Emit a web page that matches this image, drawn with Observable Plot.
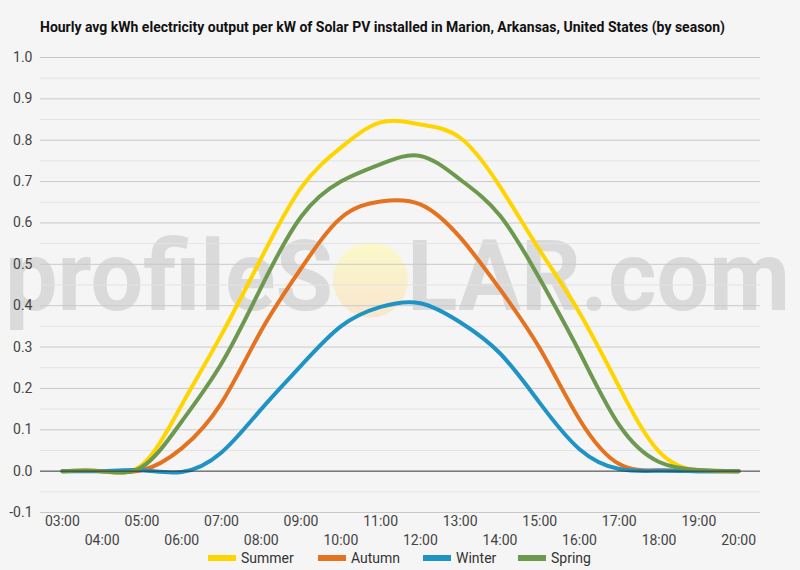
<!DOCTYPE html>
<html>
<head>
<meta charset="utf-8">
<script src="https://cdn.jsdelivr.net/npm/d3@7"></script>
<script src="https://cdn.jsdelivr.net/npm/@observablehq/plot@0.6"></script>
<style>
  html, body { margin: 0; padding: 0; background: #f5f5f5; }
  #wrap { position: relative; width: 800px; height: 570px; background: #f5f5f5; overflow: hidden; font-family: Roboto, "Liberation Sans", sans-serif; }
  #title { position: absolute; left: 40px; top: 18px; font-size: 15px; font-weight: 700; color: #111; white-space: nowrap; transform-origin: left center; }
  #wm { position: absolute; left: 0; top: 0; }
  #chart { position: absolute; left: 0; top: 45px; }
  #legend { position: absolute; left: 0; top: 548px; width: 800px; height: 20px; }
  .item { position: absolute; top: 0; height: 20px; display: flex; align-items: center; font-size: 14px; color: #333; white-space: nowrap; }
  .sw { width: 28px; height: 6px; margin-right: 5px; }
</style>
</head>
<body>
<div id="wrap">
  <svg id="wm" width="800" height="570"></svg>
  <div id="title">Hourly avg kWh electricity output per kW of Solar PV installed in Marion, Arkansas, United States (by season)</div>
  <div id="chart"></div>
  <div id="legend"></div>
</div>
<script>
// ---- data ----
const hours = [3, 4, 5, 6, 7, 8, 9, 10, 11, 12, 13, 14, 15, 16, 17, 18, 19, 20];
const hourLabels = ["03:00","04:00","05:00","06:00","07:00","08:00","09:00","10:00","11:00","12:00","13:00","14:00","15:00","16:00","17:00","18:00","19:00","20:00"];
const seasons = ["Summer", "Autumn", "Winter", "Spring"];
const seasonColors = ["#FFD500", "#E5721F", "#1F93C3", "#6C994F"];
const summer = [0, 0, 0.015, 0.16, 0.33, 0.515, 0.685, 0.782, 0.843, 0.838, 0.806, 0.688, 0.534, 0.383, 0.203, 0.047, 0.002, 0];
const autumn = [0, 0, 0.002, 0.055, 0.165, 0.34, 0.49, 0.612, 0.652, 0.645, 0.565, 0.44, 0.297, 0.125, 0.017, 0.002, 0, 0];
const winter = [0, 0, 0.002, -0.002, 0.045, 0.15, 0.255, 0.35, 0.397, 0.406, 0.36, 0.285, 0.165, 0.053, 0.005, 0.001, 0, 0];
const spring = [0, 0, 0.01, 0.12, 0.26, 0.445, 0.615, 0.7, 0.742, 0.762, 0.705, 0.618, 0.465, 0.288, 0.111, 0.022, 0.003, 0];
const yTicks = [-0.1, 0, 0.1, 0.2, 0.3, 0.4, 0.5, 0.6, 0.7, 0.8, 0.9, 1.0];
const yMinor = [-0.05, 0.05, 0.15, 0.25, 0.35, 0.45, 0.55, 0.65, 0.75, 0.85, 0.95];

const seriesValues = [summer, autumn, winter, spring];
const rows = [];
seasons.forEach((s, i) => hours.forEach((h, j) => rows.push({season: s, hour: h, value: seriesValues[i][j]})));

const labelOf = new Map(hours.map((h, i) => [h, hourLabels[i]]));
const oddHours = hours.filter(h => h % 2 === 1);
const evenHours = hours.filter(h => h % 2 === 0);

const font = "Roboto, 'Liberation Sans', sans-serif";

const plot = Plot.plot({
  width: 800,
  height: 503,
  marginTop: 12,
  marginBottom: 36,
  marginLeft: 40,
  marginRight: 40,
  style: {background: "transparent", fontFamily: font, fontSize: "14px", color: "#444", overflow: "visible"},
  x: {type: "linear", domain: [2.45, 20.55], axis: null},
  y: {domain: [-0.1, 1.0], axis: null},
  color: {domain: seasons, range: seasonColors},
  marks: [
    Plot.ruleY(yMinor, {stroke: "#e3e3e3", strokeWidth: 1}),
    Plot.ruleY(yTicks.filter(d => d !== 0), {stroke: "#c9c9c9", strokeWidth: 1}),
    Plot.line(rows, {x: "hour", y: "value", z: "season", stroke: "season", strokeWidth: 4, curve: "natural"}),
    Plot.ruleY([0], {stroke: "#333", strokeWidth: 1}),
    Plot.axisY({ticks: yTicks, tickSize: 0, tickPadding: 8, tickFormat: d => d.toFixed(1), fontSize: 14, fill: "#444", label: null}),
    Plot.axisX({ticks: oddHours, tickSize: 0, tickPadding: 4, tickFormat: d => labelOf.get(d), fontSize: 14, fill: "#444", label: null}),
    Plot.axisX({ticks: evenHours, tickSize: 0, tickPadding: 23, tickFormat: d => labelOf.get(d), fontSize: 14, fill: "#444", label: null})
  ]
});
document.getElementById("chart").appendChild(plot);

// ---- watermark (decoration behind chart) ----
const wm = d3.select("#wm");
const defs = wm.append("defs");
const grad = defs.append("linearGradient").attr("id", "sun").attr("x1", 0).attr("y1", 0).attr("x2", 0).attr("y2", 1);
grad.append("stop").attr("offset", "0%").attr("stop-color", "#fbf9c9");
grad.append("stop").attr("offset", "100%").attr("stop-color", "#f8e6cf");
wm.append("text").attr("x", 5).attr("y", 310).attr("textLength", 328).attr("lengthAdjust", "spacingAndGlyphs")
  .attr("font-family", font).attr("font-weight", 700).attr("font-size", 98).attr("fill", "#dadada").text("profileS");
wm.append("ellipse").attr("cx", 370.5).attr("cy", 280).attr("rx", 37.5).attr("ry", 37.5).attr("fill", "url(#sun)");
wm.append("text").attr("x", 407).attr("y", 310).attr("textLength", 383).attr("lengthAdjust", "spacingAndGlyphs")
  .attr("font-family", font).attr("font-weight", 700).attr("font-size", 98).attr("fill", "#dadada").text("LAR.com");

// ---- title fit ----
const title = document.getElementById("title");
const tw = title.getBoundingClientRect().width;
title.style.transform = `scaleX(${685 / tw})`;

// ---- legend ----
const legendX = [208, 318, 423, 518];
const legend = d3.select("#legend");
seasons.forEach((s, i) => {
  const it = legend.append("div").attr("class", "item").style("left", legendX[i] + "px");
  it.append("div").attr("class", "sw").style("background", seasonColors[i]);
  it.append("span").text(s);
});
</script>
</body>
</html>
